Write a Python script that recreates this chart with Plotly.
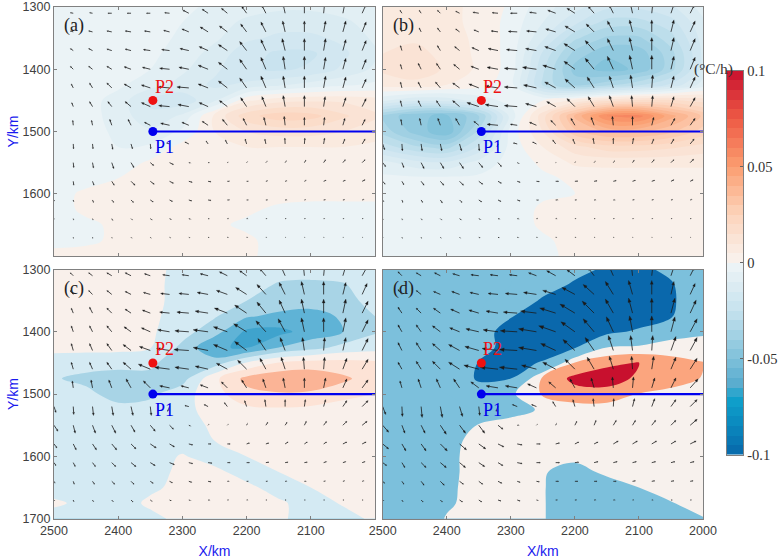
import numpy as np
import plotly.graph_objects as go

# grid of the shaded field (values in 0.001 degC/h)
GRID_X = [2500, 2450, 2400, 2350, 2300, 2250, 2200, 2150, 2100, 2050, 2000]
GRID_Y = [1300, 1325, 1350, 1375, 1400, 1425, 1450, 1475, 1500, 1525, 1550, 1575, 1600, 1625, 1650, 1675, 1700]

Z_A = [
    [-3, -3, -3, -3, -4, -6, -8, -9, -9, -8, -6],
    [-3, -3, -3, -3, -5, -8, -11, -13, -13, -11, -8],
    [-3, -3, -3, -3, -6, -9, -14, -16, -16, -14, -9],
    [-3, -3, -3, -4, -7, -12, -18, -21, -21, -16, -11],
    [-3, -3, -3, -5, -9, -14, -19, -21, -19, -14, -9],
    [-3, -3, -4, -8, -12, -16, -14, -11, -8, -6, -4],
    [-2, -3, -7, -16, -18, -11, 4, 8, 9, 9, 7],
    [-2, -3, -7, -14, -9, 6, 18, 23, 22, 16, 11],
    [-2, -3, -6, -9, -4, 5, 10, 12, 12, 10, 7],
    [-2, -3, -5, -4, 2, 4, 5, 5, 5, 5, 4],
    [-3, -3, -3, 1, 2, 2, 2, 2, 2, 2, 2],
    [-3, -2, 0, 2, 2, 2, 2, 2, 2, 2, 2],
    [-2, 1, 2, 2, 2, 2, 2, 2, 2, 2, 2],
    [-2, 1, 1, 2, 2, 2, 1, -1, -2, -2, -2],
    [-2, -1, 1, 2, 2, 1, -1, -3, -3, -3, -3],
    [-2, -1, 1, 2, 2, 1, 1, -2, -3, -3, -3],
    [2, 2, 2, 2, 2, 2, 1, -2, -3, -3, -3],
]
Z_B = [
    [5, 6, 6, 4, -1, -8, -13, -19, -19, -16, -8],
    [6, 7, 6, 4, -2, -10, -19, -27, -27, -22, -11],
    [8, 9, 7, 4, -2, -14, -29, -36, -36, -27, -13],
    [10, 12, 8, 4, -2, -21, -37, -44, -43, -32, -14],
    [11, 14, 9, 4, -2, -24, -42, -47, -44, -32, -13],
    [7, 8, 5, 2, -3, -26, -37, -32, -26, -19, -8],
    [-9, -14, -13, -8, -3, 0, 6, 13, 16, 16, 13],
    [-36, -44, -46, -36, -8, 13, 36, 55, 57, 42, 29],
    [-32, -42, -49, -29, -3, 10, 29, 36, 36, 31, 23],
    [-22, -29, -32, -19, -3, 5, 13, 18, 18, 16, 13],
    [-8, -13, -14, -8, -3, 1, 6, 6, 6, 6, 6],
    [-4, -4, -4, -4, -3, -1, 1, 3, 3, 3, 3],
    [-4, -4, -4, -4, -3, -1, 0, 2, 2, 2, 2],
    [-4, -4, -4, -4, -3, 1, 2, 2, 2, 2, 2],
    [-4, -4, -4, -4, -3, 1, 2, 2, 2, 2, 2],
    [-3, -4, -4, -4, -3, -1, 2, 2, 2, 2, 2],
    [-3, -3, -3, -3, -3, -1, 1, 2, 2, 2, 2],
]
Z_C = [
    [5, 5, 5, 5, -5, -8, -12, -16, -16, -15, -12],
    [5, 5, 5, 4, -5, -10, -16, -21, -22, -21, -14],
    [5, 5, 5, 4, -5, -12, -20, -30, -33, -25, -15],
    [5, 5, 5, 3, -6, -18, -38, -44, -46, -38, -20],
    [5, 5, 5, 3, -12, -32, -64, -66, -52, -40, -22],
    [5, 5, 5, 1, -25, -58, -62, -40, -28, -14, -8],
    [-8, -10, -12, -14, -40, -30, 2, 22, 28, 28, 24],
    [-18, -26, -30, -28, -28, 15, 46, 55, 56, 44, 30],
    [-8, -14, -30, -24, -8, 12, 34, 38, 36, 28, 20],
    [-5, -8, -12, -12, -3, 4, 15, 17, 15, 8, 7],
    [-5, -5, -6, -6, -5, 2, 6, 6, 6, 6, 6],
    [-5, -5, -5, -5, -5, 0, 5, 6, 6, 6, 6],
    [-5, -5, -5, -5, 1, -5, 0, 5, 6, 6, 6],
    [-5, -5, -5, -5, 3, 3, -5, 0, 5, 6, 6],
    [-5, -5, -5, -2, 3, 3, 3, -5, 0, 5, 6],
    [2, -3, -5, 2, 3, 3, 3, 2, -5, 1, 6],
    [-5, -5, -5, -3, 3, 3, 3, 2, -5, -4, 2],
]
Z_D = [
    [-30, -30, -30, -30, -40, -50, -70, -85, -90, -70, -40],
    [-30, -30, -30, -30, -40, -65, -85, -100, -100, -85, -40],
    [-30, -30, -30, -35, -55, -85, -100, -110, -110, -88, -40],
    [-30, -30, -30, -40, -78, -100, -115, -120, -115, -85, -30],
    [-30, -30, -35, -65, -95, -115, -115, -95, -70, -15, -5],
    [-30, -32, -45, -65, -95, -110, -85, 0, 8, 14, 14],
    [-30, -35, -50, -82, -100, -75, 45, 72, 82, 60, 42],
    [-30, -35, -50, -85, -80, 50, 90, 100, 72, 55, 38],
    [-30, -32, -40, -60, -8, 45, 65, 62, 38, 30, 25],
    [-30, -30, -35, -40, -15, 5, 20, 22, 22, 20, 18],
    [-30, -30, -30, 3, 15, 15, 15, 15, 15, 15, 15],
    [-30, -30, -15, 15, 15, 15, 15, 15, 15, 15, 15],
    [-30, -30, -10, 15, 15, 5, 10, 15, 15, 15, 15],
    [-30, -30, -10, 15, 15, 3, -15, 8, 15, 15, 15],
    [-30, -30, -8, 15, 15, 3, -30, -20, 0, 15, 15],
    [-30, -30, -6, 15, 15, 3, -30, -30, -20, -2, 15],
    [-30, -30, 3, 15, 15, 3, -30, -30, -30, -30, -2],
]

# wind arrows: tails on this grid, components read as picture pixels (right, up)
ARROW_X = [2500, 2470, 2440, 2410, 2380, 2350, 2320, 2290, 2260, 2230, 2200, 2170, 2140, 2110, 2080, 2050, 2020]
ARROW_Y = [1310, 1340, 1370, 1400, 1430, 1460, 1490, 1520, 1550, 1580, 1610, 1640, 1670]

U_A = [
    [0, -3, -3, -4, -4, -4, -5, -6, -6, -6, -5, -4, -2, 0, 1, 2, 4],
    [0, -3, -4, -5, -6, -6, -6, -7, -8, -8, -6, -5, -2.5, 0, 2, 3, 4],
    [0, -3, -4, -5, -6, -7, -8, -9, -9, -9, -7, -5, -3, 0, 2, 3, 4],
    [0, -3, -4, -5, -7, -8, -10, -10, -10, -9, -7, -5, -2, 0, 2, 3, 4],
    [0, -2, -3, -5, -7, -9, -12, -12, -10, -9, -7, -5, -2, 0, 2, 3, 4],
    [0, -1.5, -3, -4, -6, -9, -11, -11, -9, -8, -6, -4, -2, 0, 1.5, 3, 4],
    [0, -0.5, -1, -2, -3, -6, -9, -7, -6, -5, -3.5, -2, -1, 0, 1, 2, 3],
    [0, 0.3, 0.5, 1, 1.5, 0.5, -3, -4, -2, -2, -1.5, -1, -0.3, 0.5, 1, 2, 3],
    [0, 0.5, 1, 2, 3, 3.5, 4, 2, 1.5, 1, 1, 1.5, 1.5, 1.5, 2, 2.5, 3],
    [0, 0.5, 1.5, 2.5, 4, 4, 4, 3.5, 3, 2.5, 2, 2, 2, 2, 2.5, 2.5, 3],
    [0.3, 0.3, 1, 2, 2.5, 3, 3, 3, 3, 2.5, 2, 2, 2, 1.5, 2, 2, 2],
    [0.2, 0.3, 0.5, 1, 1.5, 2, 2, 2, 1.5, 1.5, 1.5, 1, 1, 1, 1, 1, 1],
    [0, 0.2, 0.4, 0.5, 1, 1, 1.2, 1.2, 1.2, 1, 1, 0.7, 0.5, 0.5, 0.5, 0.5, 0.5],
]
V_A = [
    [0, 0.5, 0.5, 0, 0, 0, 0.5, 3, 4, 5, 7, 8, 9, 10, 10, 10, 9],
    [0, 1, 1, 1, 1, 1, 1.5, 3, 5, 6, 8, 10, 11, 11, 11, 11, 10],
    [0, 2, 2, 1.5, 1.5, 1, 1, 2, 4, 6, 9, 11, 12, 12, 12, 11, 10],
    [0, 3, 3, 3, 2.5, 2, 1, 2, 4, 7, 10, 12, 13, 13, 12, 11, 10],
    [0, 4, 5, 5, 4, 3, 1, 1, 4, 7, 10, 12, 12, 12, 12, 11, 9],
    [0, 4, 5, 5, 5, 4, 1, 2, 4, 6, 9, 10, 11, 11, 10, 9, 8],
    [0, 5, 5, 6, 6, 3, 2, 3, 4, 6, 7, 8, 9, 8, 8, 7, 6],
    [0, -5, -5, -5.5, -5, -5, 1, 2, 3, 4, 5, 5, 6, 6, 6, 5, 5],
    [0, -5, -5.5, -6, -5, -3, -2, -0.5, 0, 0.5, 1, 1.5, 2, 2.5, 3, 3, 3],
    [0, -4, -4, -4, -4, -3, -2, -1, -0.5, 0, 0, 0.5, 0.5, 1, 1, 1, 1.5],
    [-1, -2, -2.5, -2.5, -2.5, -2, -1.5, -1, -0.5, 0, 0, 0, 0, 0.3, 0.3, 0.3, 0.5],
    [-0.5, -1.5, -1.5, -2, -1.5, -1.5, -1, -0.7, -0.3, 0, 0, 0, 0, 0, 0, 0, 0],
    [0, -1, -1, -1, -1, -1, -0.7, -0.5, -0.3, 0, 0, 0, 0, 0, 0, 0, 0],
]
U_B = [
    [0, -2, -2, -3, -4, -6, -6, -7, -7, -8, -8, -6, -4, -2, 1, 3, 4],
    [0, -1.5, -2, -3, -4, -5, -7, -9, -10, -10, -10, -8, -6, -3, 0, 3, 5],
    [0, -1.5, -2, -3, -5, -7, -10, -11, -11, -11, -11, -9, -6, -3, 0, 3, 5],
    [0, -1.5, -3, -4, -6, -8, -11, -13, -14, -13, -11, -9, -6, -3, 0, 3, 5],
    [0, -1.5, -3, -5, -7, -10, -13, -13, -13, -11, -10, -7, -4, -2, 1, 3, 5],
    [0, -1.5, -3, -4, -7, -12, -13, -13, -11, -9, -8, -6, -4, -1, 1, 3, 5],
    [0, -1, -1.5, -2.5, -4, -5, -11, -7, -7, -5, -4, -3, -1, 0, 2, 4, 5],
    [2, 0.5, 1, 1.5, 2, 0.5, -1, -4, -4, -3, -2, -1, 0, 1, 2, 3, 4],
    [3, 2, 3, 3.5, 4, 4, 3.5, 2, 1, 0.5, 0.7, 1.3, 1.5, 1.7, 2.5, 3, 3.5],
    [2.5, 2, 3, 3.5, 4, 4, 3.5, 3, 3, 3, 3, 3, 3, 3, 3, 3, 3],
    [1, 1, 1.5, 2, 2.5, 3, 3, 3, 2.5, 2.5, 2, 2, 2, 2, 2, 2, 2],
    [0.5, 0.5, 1, 1.5, 2, 2, 2, 2, 1.5, 1.5, 1, 1, 1, 1, 1, 1, 1],
    [0.3, 0.5, 0.5, 1, 1, 1.5, 1.5, 1.5, 1, 1, 1, 0.7, 0.7, 0.5, 0.5, 0.5, 0.5],
]
V_B = [
    [0, 3, 3, 3, 2, 1, 0.5, 0, 1, 3, 5, 7, 8, 9, 9, 9, 8],
    [0, 4, 4, 4, 3, 2, 1, 0.5, 1, 3, 6, 8, 11, 12, 12, 12, 11],
    [0, 5, 5, 5, 4, 3, 2, 1, 2, 4, 7, 10, 12, 13, 13, 13, 12],
    [0, 5, 6, 6, 5, 3, 2, 1, 2, 4, 8, 11, 13, 14, 14, 13, 12],
    [0, 6, 6, 6, 5, 4, 2, 1, 3, 6, 9, 11, 12, 13, 13, 12, 11],
    [0, 6, 6, 6, 6, 4, 2, 1, 3, 5, 8, 10, 11, 11, 11, 10, 9],
    [0, 6, 7, 7, 7, 4, 1, 1, 3, 5, 7, 8, 9, 9, 8, 7, 7],
    [-6, -7, -7, -7, -7, -7, -3, 1, 2, 4, 5, 6, 6, 6, 5, 5, 5],
    [-4, -5, -6, -6, -6, -5, -4, -1, 0, 0.3, 1, 1.5, 2, 2.5, 3, 3, 3.5],
    [-3, -3.5, -4, -4, -4, -3, -2, -1, -0.3, 0, 0.2, 0.5, 0.7, 1, 1, 1.5, 1.5],
    [-2, -2.5, -2.5, -3, -2.5, -2, -1.5, -1, -0.3, 0, 0, 0, 0, 0.3, 0.3, 0.3, 0.5],
    [-1, -1.5, -1.5, -1.5, -1.5, -1, -0.5, -0.3, 0, 0, 0, 0, 0, 0, 0, 0, 0],
    [-0.7, -1, -1, -1, -1, -0.7, -0.5, -0.3, 0, 0, 0, 0, 0, 0, 0, 0, 0],
]
U_C = [
    [0, -3, -4, -5, -6, -6, -7, -7, -8, -8, -7, -6, -4, -1, 1, 3, 5],
    [0, -3, -4, -5, -6, -7, -9, -10, -11, -11, -11, -9, -6, -3, 0, 3, 5],
    [0, -2, -3, -5, -6, -8, -10, -12, -13, -13, -12, -9, -6, -3, 0, 3, 6],
    [0, -2, -3, -5, -7, -9, -12, -14, -15, -14, -13, -10, -7, -3, 0, 3, 6],
    [0, -2, -3, -5, -8, -11, -13, -15, -15, -14, -12, -8, -5, -2, 1, 3, 6],
    [0, -2, -3, -5, -8, -12, -15, -14, -13, -11, -9, -6, -4, -1, 1, 4, 6],
    [0, -1, -1.5, -3, -5, -7, -10, -8, -8, -6, -5, -3, -2, 0, 2, 4, 6],
    [2, 0.5, 1, 1.5, 2, 1, -2, -4, -4, -3, -2, -1, 0, 1, 2, 4, 6],
    [4, 2, 3, 4, 4, 5, 4, 2, 1, 1, 1, 2, 2, 2, 3, 4, 5],
    [3, 3, 4, 5, 5, 6, 5, 4, 3, 3, 3, 3, 3, 3, 3, 4, 4],
    [2, 2, 3, 4, 5, 5, 5, 4, 4, 3, 3, 3, 3, 3, 3, 3, 3],
    [1, 1, 2, 3, 3, 3, 3, 3, 3, 2, 2, 2, 2, 2, 2, 2, 2],
    [0.5, 0.5, 1, 1.5, 2, 2, 2, 2, 2, 1.5, 1.5, 1, 1, 1, 1, 1, 1],
]
V_C = [
    [0, 3, 3, 3, 3, 2, 1, 1, 2, 4, 5, 7, 9, 10, 10, 10, 9],
    [0, 4, 4, 4, 3, 2, 1, 1, 2, 4, 7, 10, 12, 13, 13, 12, 11],
    [0, 5, 6, 5, 4, 3, 1, 1, 2, 5, 8, 11, 13, 14, 14, 14, 12],
    [0, 6, 6, 6, 5, 4, 2, 1, 2, 5, 8, 11, 13, 14, 14, 14, 12],
    [0, 7, 7, 7, 6, 4, 2, 1, 3, 6, 9, 12, 13, 13, 13, 13, 12],
    [0, 7, 7, 7, 7, 5, 2, 2, 3, 6, 9, 11, 12, 12, 12, 11, 10],
    [0, 7, 8, 8, 9, 7, 2, 2, 3, 6, 8, 9, 10, 10, 10, 9, 8],
    [-6, -8, -9, -9, -9, -9, -5, 1, 2, 4, 6, 7, 7, 7, 7, 6, 6],
    [-6, -8, -8, -8, -7, -6, -4, -1, 1, 1, 2, 3, 3, 4, 4, 4, 4],
    [-4, -6, -6, -6, -5, -4, -3, -1, 0, 0, 1, 1, 2, 2, 2, 2, 2],
    [-3, -4, -4, -4, -4, -3, -2, -1, -0.5, 0, 0, 0.5, 0.5, 0.5, 1, 1, 1],
    [-2, -3, -3, -3, -3, -2, -1.5, -1, -0.5, 0, 0, 0, 0, 0, 0.3, 0.5, 0.5],
    [-1, -2, -2, -2, -2, -1.5, -1, -0.5, -0.3, 0, 0, 0, 0, 0, 0, 0, 0],
]
U_D = [
    [0, -4, -5, -6, -7, -8, -8, -8, -8, -9, -8, -6, -4, -1, 1, 3, 4],
    [0, -4, -5, -7, -8, -9, -10, -12, -13, -13, -13, -11, -8, -4, 0, 3, 5],
    [0, -4, -5, -7, -9, -10, -12, -14, -16, -16, -15, -12, -8, -4, 0, 4, 6],
    [0, -4, -5, -8, -10, -13, -15, -17, -18, -17, -14, -11, -7, -3, 0, 4, 7],
    [0, -4, -5, -8, -11, -14, -16, -18, -18, -15, -12, -9, -5, -2, 1, 5, 7],
    [0, -4, -5, -8, -11, -15, -18, -18, -15, -13, -10, -7, -4, -1, 2, 5, 7],
    [0, -2, -3, -4, -6, -8, -12, -12, -9, -7, -5, -3, -1, 1, 3, 5, 8],
    [3, 0.5, 1, 2, 3, 1, -2, -5, -5, -3, -2, -1, 0.5, 2, 3, 5, 7],
    [6, 3, 4, 6, 6, 6, 5, 2, 1, 1, 2, 2, 3, 3, 4, 5, 7],
    [6, 4, 5, 7, 7, 7, 6, 5, 4, 4, 4, 4, 5, 5, 5, 5, 6],
    [4, 3, 5, 6, 6, 6, 5, 5, 4, 4, 4, 4, 4, 4, 4, 4, 4],
    [2, 2, 3, 4, 4, 4, 4, 3, 3, 3, 3, 3, 3, 3, 3, 3, 3],
    [1, 1, 2, 2, 3, 3, 3, 3, 2, 2, 2, 2, 2, 1.5, 1.5, 1.5, 1.5],
]
V_D = [
    [0, 4, 3, 3, 2, 1, 1, 1, 3, 5, 6, 8, 9, 9, 9, 9, 8],
    [0, 5, 4, 3, 3, 2, 1, 1, 2, 4, 7, 10, 13, 14, 14, 13, 11],
    [0, 6, 5, 5, 4, 3, 2, 1, 2, 5, 9, 12, 14, 15, 15, 15, 13],
    [0, 7, 7, 6, 4, 3, 2, 1, 3, 6, 10, 13, 15, 16, 16, 15, 13],
    [0, 8, 8, 7, 6, 4, 2, 1, 3, 7, 11, 13, 15, 15, 15, 14, 13],
    [0, 7, 8, 8, 7, 4, 2, 2, 4, 7, 10, 12, 13, 13, 13, 12, 11],
    [0, 7, 9, 9, 9, 6, 2, 2, 4, 6, 9, 10, 11, 11, 10, 10, 9],
    [-8, -10, -11, -11, -10, -9, -5, 2, 2, 5, 7, 8, 8, 8, 8, 7, 7],
    [-7, -8, -8, -9, -8, -8, -4, 0, 1, 2, 4, 5, 5, 5, 5, 5, 6],
    [-5, -7, -7, -7, -6, -5, -3, -1, 0, 1, 2, 2, 3, 3, 3, 3, 3],
    [-3, -5, -5, -5, -5, -4, -3, -1, 0, 0, 0.5, 1, 1, 1, 1, 1, 1],
    [-2, -3, -4, -4, -3, -3, -2, -1, -0.5, 0, 0, 0, 0, 0.5, 0.5, 0.5, 0.5],
    [-1, -2, -2, -2, -2, -2, -1, -1, -0.5, 0, 0, 0, 0, 0, 0, 0, 0],
]

# colour bar anchors
CBAR_VALUES = [-0.1, -0.085, -0.07, -0.065, -0.05, -0.025, -0.0025, 0.0025, 0.025, 0.05, 0.075, 0.1]
CBAR_COLORS = ["#0868aa", "#0a87bd", "#10a3cc", "#52a9cd", "#7fc1da", "#c6e2ee", "#ebf3f6", "#f9f0ea",
               "#fcd4bc", "#fb9e70", "#ee5a45", "#c8102e"]
CBAR_BANDS = [-0.0975, -0.0925, -0.0875, -0.0825, -0.0775, -0.0725, -0.0675, -0.0625, -0.0575, -0.0525,
              -0.0475, -0.0425, -0.0375, -0.0325, -0.0275, -0.0225, -0.0175, -0.0125, -0.0075, -0.0025,
              0.0025, 0.0075, 0.0125, 0.0175, 0.0225, 0.0275, 0.0325, 0.0375, 0.0425, 0.0475,
              0.0525, 0.0575, 0.0625, 0.0675, 0.0725, 0.0775, 0.0825, 0.0875, 0.0925, 0.0975]
CBAR_TICKS = [-0.1, -0.05, 0, 0.05, 0.1]
CBAR_LABELS = ["-0.1", "-0.05", "0", "0.05", "0.1"]

# panels (c) and (d) are shaded with few flat bands
BANDS_C = ["#3fa3cd", "#5fb3d6", "#a8d4e6", "#d4eaf3", "#f9f0eb", "#fde3d6", "#fbb496"]
BANDS_D = ["#0a68ac", "#7cc0dc", "#7cc0dc", "#f7f1ed", "#fba57e", "#c8102e"]

X_TICKS = [2500, 2400, 2300, 2200, 2100, 2000]
Y_TICKS = [1300, 1400, 1500, 1600, 1700]
P1 = (2346, 1500)
P2 = (2346, 1450)
LINE_END_X = 2000

W, H = 782, 559
PANELS = [
    dict(name="a", z=Z_A, u=U_A, v=V_A, box=(54, 375, 7, 256), levels=(-0.095, 0.095, 0.005), scale=None),
    dict(name="b", z=Z_B, u=U_B, v=V_B, box=(382.7, 703, 7, 256), levels=(-0.095, 0.095, 0.005), scale=None),
    dict(name="c", z=Z_C, u=U_C, v=V_C, box=(54, 375, 269.5, 518.7), levels=(-0.06, 0.04, 0.02), scale=BANDS_C),
    dict(name="d", z=Z_D, u=U_D, v=V_D, box=(382.7, 703, 269.5, 518.7), levels=(-0.08, 0.08, 0.04), scale=BANDS_D),
]
smooth_scale = [[(v + 0.1) / 0.2, c] for v, c in zip(CBAR_VALUES, CBAR_COLORS)]

fig = go.Figure()
layout = dict(template="none", width=W, height=H, margin=dict(l=0, r=0, t=0, b=0), autosize=False,
              paper_bgcolor="white", plot_bgcolor="white", showlegend=False,
              font=dict(family="Liberation Sans", size=12.5, color="#404040"))
notes = []
serif = "Liberation Serif"

for i, p in enumerate(PANELS):
    sfx = "" if i == 0 else str(i + 1)
    xa, ya = "x" + sfx, "y" + sfx
    left, right, top, bottom = p["box"]
    px_x = (right - left) / 500  # pixels per km
    px_y = (bottom - top) / 400

    if p["scale"] is None:
        cscale = smooth_scale
    else:
        n = len(p["scale"])
        cscale = [[k / (n - 1), c] for k, c in enumerate(p["scale"])]
    start, end, size = p["levels"]
    fig.add_trace(go.Contour(x=GRID_X, y=GRID_Y, z=np.array(p["z"]) / 1000, xaxis=xa, yaxis=ya,
                             colorscale=cscale, autocontour=False, showscale=False,
                             contours=dict(start=start, end=end, size=size, coloring="fill", showlines=False),
                             line=dict(width=0, smoothing=1.0), hoverinfo="skip"))

    # arrows, built in picture pixels so the shape is not stretched by the axes
    shaft_x, shaft_y, head_x, head_y = [], [], [], []
    for r, y0 in enumerate(ARROW_Y):
        for c, x0 in enumerate(ARROW_X):
            du, dv = p["u"][r][c], p["v"][r][c]
            length = (du ** 2 + dv ** 2) ** 0.5
            if length == 0:
                continue
            ex, ey = du / length, dv / length
            hl = 0.27 * length
            hw = 0.09 * length + 0.2
            # reversed axes: right on screen is smaller X, up is smaller Y
            to_x = lambda a, b: x0 - (a * ex - b * ey) / px_x
            to_y = lambda a, b: y0 - (a * ey + b * ex) / px_y
            shaft_x += [x0, to_x(length - hl, 0), None]
            shaft_y += [y0, to_y(length - hl, 0), None]
            head_x += [to_x(length, 0), to_x(length - hl, hw), to_x(length - hl, -hw), to_x(length, 0), None]
            head_y += [to_y(length, 0), to_y(length - hl, hw), to_y(length - hl, -hw), to_y(length, 0), None]
    fig.add_trace(go.Scatter(x=shaft_x, y=shaft_y, mode="lines", xaxis=xa, yaxis=ya,
                             line=dict(color="#1a1a1a", width=0.8), hoverinfo="skip"))
    fig.add_trace(go.Scatter(x=head_x, y=head_y, mode="lines", xaxis=xa, yaxis=ya, fill="toself",
                             fillcolor="#1a1a1a", line=dict(color="#1a1a1a", width=0.3), hoverinfo="skip"))

    # section line and the two points
    fig.add_trace(go.Scatter(x=[P1[0], LINE_END_X], y=[P1[1], P1[1]], mode="lines", xaxis=xa, yaxis=ya,
                             line=dict(color="#0000ee", width=2.2), hoverinfo="skip"))
    fig.add_trace(go.Scatter(x=[P1[0]], y=[P1[1]], mode="markers", xaxis=xa, yaxis=ya,
                             marker=dict(color="#0000ee", size=9), hoverinfo="skip"))
    fig.add_trace(go.Scatter(x=[P2[0]], y=[P2[1]], mode="markers", xaxis=xa, yaxis=ya,
                             marker=dict(color="#ee1111", size=9), hoverinfo="skip"))

    notes.append(dict(x=2346, y=1428, xref=xa, yref=ya, text="P2", showarrow=False, xanchor="left",
                      font=dict(family=serif, size=18, color="#ee1111")))
    notes.append(dict(x=2346, y=1525, xref=xa, yref=ya, text="P1", showarrow=False, xanchor="left",
                      font=dict(family=serif, size=18, color="#0000ee")))
    notes.append(dict(x=2487, y=1330, xref=xa, yref=ya, text="(%s)" % p["name"], showarrow=False, xanchor="left",
                      font=dict(family=serif, size=18, color="#222222")))

    low = i >= 2
    is_left = i % 2 == 0
    xtext = [str(t) for t in X_TICKS] if low else ["" for t in X_TICKS]
    if i == 2:
        xtext[-1] = ""
    ytext = [str(t) for t in Y_TICKS] if is_left else ["" for t in Y_TICKS]
    if i == 0:
        ytext[-1] = ""
    axis_style = dict(tickmode="array", ticks="inside", ticklen=3, tickcolor="#808080", showline=True,
                      linecolor="#808080", linewidth=1.3, mirror="ticks", showgrid=False, zeroline=False,
                      automargin=False)
    xaxis = dict(domain=[left / W, right / W], range=[2500, 2000], anchor=ya,
                 tickvals=X_TICKS, ticktext=xtext, **axis_style)
    yaxis = dict(domain=[1 - bottom / H, 1 - top / H], range=[1700, 1300], anchor=xa,
                 tickvals=Y_TICKS, ticktext=ytext, **axis_style)
    if low:
        xaxis["title"] = dict(text="X/km", font=dict(color="#1a1aee", size=14), standoff=9)
    if is_left:
        yaxis["title"] = dict(text="Y/km", font=dict(color="#1a1aee", size=14), standoff=0)
    layout["xaxis" + sfx] = xaxis
    layout["yaxis" + sfx] = yaxis

# colour bar drawn as its own narrow heatmap axis
fig.add_trace(go.Heatmap(x=[0], y=CBAR_BANDS, z=[[v] for v in CBAR_BANDS], xaxis="x5", yaxis="y5",
                         colorscale=smooth_scale, zmin=-0.1, zmax=0.1, showscale=False, hoverinfo="skip"))
layout["xaxis5"] = dict(domain=[726.7 / W, 743.3 / W], anchor="y5", range=[-0.5, 0.5], showticklabels=False,
                        ticks="", showline=True, linecolor="#808080", linewidth=1, mirror=True,
                        showgrid=False, zeroline=False)
layout["yaxis5"] = dict(domain=[1 - 454.7 / H, 1 - 70.7 / H], anchor="x5", range=[-0.1, 0.1], side="right",
                        tickmode="array", tickvals=CBAR_TICKS, ticktext=CBAR_LABELS, ticks="inside", ticklen=3,
                        tickcolor="#666666", showline=True, linecolor="#808080", linewidth=1, mirror=True,
                        showgrid=False, zeroline=False,
                        tickfont=dict(family=serif, size=14.5, color="#333333"))

notes.append(dict(x=735 / W, y=1 - 58 / H, xref="paper", yref="paper", text="(°C/h)", showarrow=False,
                  font=dict(family=serif, size=15.5, color="#333333")))
layout["annotations"] = notes
fig.update_layout(**layout)

# the page's default body margin would push the figure 8 px off its place
fig.write_html("out.html", config={"displayModeBar": False},
               post_script="document.body.style.margin = '0';")
